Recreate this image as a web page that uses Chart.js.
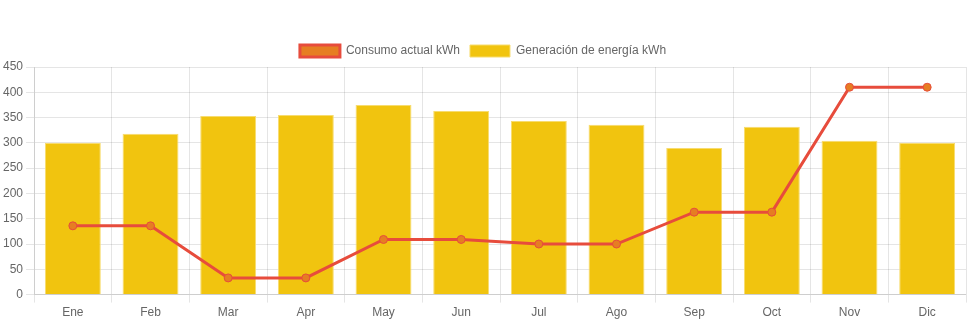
<!DOCTYPE html>
<html>
<head>
<meta charset="utf-8">
<script src="https://cdn.jsdelivr.net/npm/chart.js@4"></script>
<style>
  html, body { margin: 0; padding: 0; background: #fff; }
  #wrap { width: 971px; height: 323px; }
</style>
</head>
<body>
<div id="wrap"><canvas id="myChart"></canvas></div>
<script>
const meses = ["Ene", "Feb", "Mar", "Apr", "May", "Jun", "Jul", "Ago", "Sep", "Oct", "Nov", "Dic"];
const consumo = [136, 136, 33, 33, 109, 109, 100, 100, 163, 163, 410, 410];
const generacion = [300, 318, 353, 355, 375, 363, 343, 336, 290, 332, 304, 300];
const ticksY = [0, 50, 100, 150, 200, 250, 300, 350, 400, 450];

const ctx = document.getElementById("myChart").getContext("2d");

new Chart(ctx, {
  type: "bar",
  data: {
    labels: meses,
    datasets: [{
      type: "line",
      label: "Consumo actual kWh",
      data: consumo,
      backgroundColor: "#e67e22",
      borderColor: "#e74c3c",
      borderWidth: 3,
      pointRadius: 4,
      pointBackgroundColor: "#e67e22",
      pointBorderColor: "#e74c3c",
      pointBorderWidth: 1,
      tension: 0,
      fill: false
    }, {
      label: "Generación de energía kWh",
      data: generacion,
      backgroundColor: "#f1c40f",
      borderColor: "#f7dc6f",
      borderWidth: 1
    }]
  },
  options: {
    responsive: true,
    maintainAspectRatio: false,
    animation: { duration: 0 },
    layout: { padding: { top: 35, left: 0, right: 5, bottom: 0 } },
    scales: {
      x: {
        ticks: { color: "#666", font: { size: 12 } }
      },
      y: {
        min: 0,
        max: 450,
        afterBuildTicks: (axis) => { axis.ticks = ticksY.map(v => ({ value: v })); },
        ticks: { color: "#666", font: { size: 12 } }
      }
    },
    plugins: {
      legend: {
        display: true,
        labels: { color: "#666", font: { size: 12 } }
      },
      tooltip: { enabled: false }
    }
  }
});
</script>
</body>
</html>
